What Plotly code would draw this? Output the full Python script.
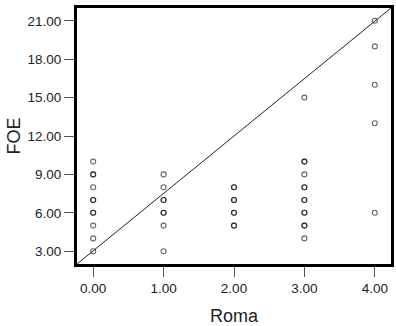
import plotly.graph_objects as go

# Data (duplicates represent overlapping points)
roma = [0]*11 + [1]*8 + [2]*8 + [3]*13 + [4]*5
foe = ([10, 9, 9, 8, 7, 7, 6, 6, 5, 4, 3] +
       [9, 8, 7, 7, 6, 6, 5, 3] +
       [8, 8, 7, 7, 6, 6, 5, 5] +
       [15, 10, 10, 9, 8, 8, 7, 7, 6, 6, 5, 5, 4] +
       [21, 19, 16, 13, 6])

x_range = [-0.23, 4.23]
y_range = [2, 22]
x_ticks = [0, 1, 2, 3, 4]
y_ticks = [3, 6, 9, 12, 15, 18, 21]

fig = go.Figure()
fig.add_trace(go.Scatter(
    x=roma, y=foe, mode="markers",
    marker=dict(symbol="circle-open", size=5, color="rgba(0,0,0,0.6)",
                line=dict(width=1.1)),
    showlegend=False, hoverinfo="skip"))

# diagonal reference line (corner to corner)
fig.add_shape(type="line", xref="x domain", yref="y domain",
              x0=0, y0=0, x1=1, y1=1, line=dict(color="#222", width=1))

font_family = "Liberation Sans, Arial, sans-serif"
fig.update_layout(
    width=396, height=326,
    margin=dict(l=77, r=5, t=8, b=62),
    paper_bgcolor="white", plot_bgcolor="white",
    font=dict(family=font_family, color="#222", size=13.5),
)
fig.update_xaxes(
    range=x_range, tickvals=x_ticks, tickformat=".2f",
    showgrid=False, zeroline=False, automargin=False,
    showline=True, linewidth=3, linecolor="black", mirror=True,
    ticks="outside", ticklen=10, tickwidth=1, tickcolor="#555",
    tickfont=dict(size=13.5, color="#222"),
    title=dict(text="Roma", font=dict(size=18, color="#222"), standoff=16),
)
fig.update_yaxes(
    range=y_range, tickvals=y_ticks, tickformat=".2f",
    showgrid=False, zeroline=False, automargin=False,
    showline=True, linewidth=3, linecolor="black", mirror=True,
    ticks="outside", ticklen=10, tickwidth=1, tickcolor="#555",
    tickfont=dict(size=13.5, color="#222"),
    title=dict(text="FOE", font=dict(size=18, color="#222"), standoff=3),
)

fig.write_html("out.html")
